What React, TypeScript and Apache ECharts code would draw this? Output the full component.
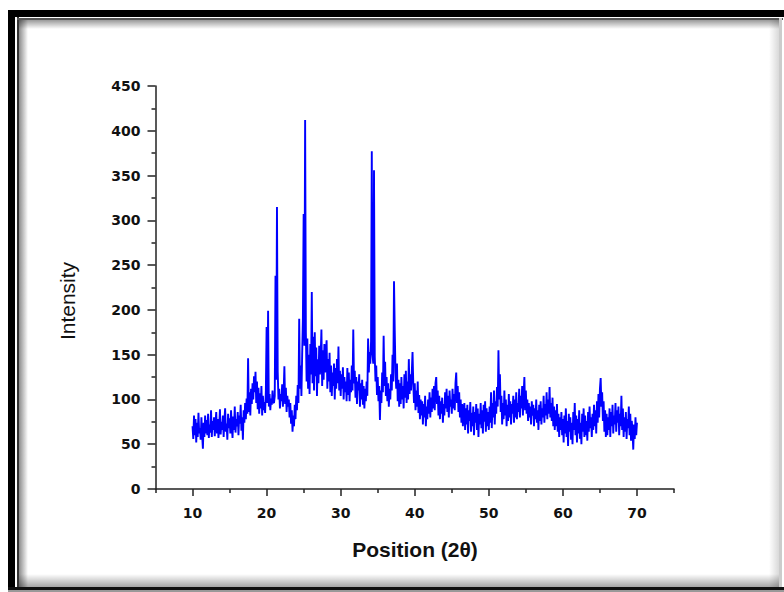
import React, { useEffect, useRef } from "react";
import * as echarts from "echarts";

// 2θ sampling of the scan (degrees)
const scanStart = 10;
const scanStep = 0.1;

const intensity: number[] = [
  70, 56, 82, 60, 78, 52, 74, 58, 85, 62, // 10
  68, 55, 80, 60, 45, 74, 58, 82, 62, 77, // 11
  60, 84, 57, 72, 63, 88, 58, 76, 66, 80, // 12
  59, 74, 86, 62, 78, 57, 70, 89, 61, 75, // 13
  66, 82, 58, 77, 90, 64, 73, 55, 84, 68, // 14
  79, 62, 88, 70, 57, 81, 66, 92, 63, 78, // 15
  70, 86, 60, 82, 73, 94, 65, 80, 55, 88, // 16
  74, 96, 78, 101, 84, 146, 86, 108, 82, 112, // 17
  95, 118, 100, 126, 108, 131, 96, 120, 89, 113, // 18
  84, 107, 90, 115, 82, 104, 88, 97, 85, 110, // 19
  181, 96, 199, 92, 106, 88, 101, 94, 110, 97, // 20
  96, 104, 238, 122, 315, 131, 100, 112, 90, 106, // 21
  98, 117, 92, 108, 137, 95, 113, 86, 104, 92, // 22
  100, 80, 96, 73, 88, 64, 82, 70, 94, 78, // 23
  104, 88, 116, 96, 190, 112, 138, 104, 150, 190, // 24
  307, 160, 412, 175, 120, 168, 112, 150, 106, 162, // 25
  128, 220, 118, 170, 110, 175, 126, 158, 104, 145, // 26
  118, 160, 128, 148, 178, 115, 155, 122, 162, 130, // 27
  150, 166, 112, 145, 120, 152, 108, 138, 104, 130, // 28
  115, 140, 100, 135, 112, 145, 118, 159, 110, 132, // 29
  104, 128, 112, 136, 100, 125, 108, 120, 98, 135, // 30
  105, 130, 98, 122, 108, 138, 110, 178, 118, 132, // 31
  102, 125, 95, 120, 110, 128, 92, 118, 100, 122, // 32
  94, 115, 90, 112, 98, 120, 104, 168, 130, 153, // 33
  140, 165, 377, 150, 140, 356, 148, 120, 138, 105, // 34
  125, 98, 115, 77, 110, 96, 130, 108, 171, 115, // 35
  142, 104, 125, 98, 118, 92, 112, 100, 128, 110, // 36
  150, 120, 232, 177, 130, 112, 140, 98, 122, 92, // 37
  118, 95, 125, 100, 115, 90, 128, 102, 132, 96, // 38
  120, 100, 145, 106, 128, 110, 130, 153, 118, 96, // 39
  118, 88, 110, 92, 120, 85, 105, 78, 100, 82, // 40
  98, 72, 95, 80, 104, 70, 92, 78, 100, 84, // 41
  108, 80, 102, 86, 112, 90, 115, 88, 118, 125, // 42
  95, 110, 82, 104, 78, 98, 84, 102, 74, 95, // 43
  82, 108, 90, 112, 86, 104, 80, 110, 92, 100, // 44
  84, 112, 90, 106, 88, 118, 130, 96, 115, 86, // 45
  108, 80, 100, 74, 95, 70, 88, 96, 66, 90, // 46
  72, 94, 62, 88, 76, 97, 64, 85, 70, 92, // 47
  60, 86, 74, 95, 66, 90, 58, 84, 72, 96, // 48
  68, 88, 62, 94, 75, 98, 64, 90, 70, 86, // 49
  66, 92, 74, 108, 68, 96, 80, 110, 72, 98, // 50
  84, 114, 92, 155, 100, 128, 86, 104, 72, 96, // 51
  78, 110, 82, 100, 70, 94, 76, 106, 80, 98, // 52
  72, 95, 84, 104, 74, 100, 80, 108, 78, 96, // 53
  86, 112, 80, 104, 90, 115, 82, 106, 125, 88, // 54
  110, 84, 100, 76, 96, 80, 92, 72, 98, 82, // 55
  94, 70, 90, 78, 100, 74, 88, 66, 94, 76, // 56
  98, 72, 90, 80, 104, 74, 95, 82, 108, 78, // 57
  100, 84, 114, 80, 96, 76, 102, 70, 92, 66, // 58
  88, 70, 95, 64, 84, 58, 80, 66, 86, 60, // 59
  78, 52, 82, 62, 90, 58, 76, 48, 84, 64, // 60
  80, 55, 74, 50, 86, 66, 96, 60, 82, 52, // 61
  78, 62, 88, 56, 74, 50, 84, 64, 90, 58, // 62
  82, 60, 76, 54, 86, 64, 92, 68, 80, 58, // 63
  84, 66, 94, 70, 88, 62, 98, 74, 106, 80, // 64
  112, 124, 92, 108, 76, 98, 64, 88, 58, 84, // 65
  60, 80, 66, 90, 58, 86, 70, 94, 62, 82, // 66
  72, 96, 64, 88, 74, 92, 60, 84, 70, 104, // 67
  66, 90, 58, 80, 64, 86, 56, 78, 68, 92, // 68
  60, 84, 54, 76, 64, 44, 72, 56, 80, 60, // 69
  74, // 70
];

const xLabelValues = [10, 20, 30, 40, 50, 60, 70];
const xMinorValues = [5, 15, 25, 35, 45, 55, 65, 75];
const xTitle = "Position (2θ)";
const yTitle = "Intensity";

const labelFont = {
  fontFamily: "DejaVu Sans",
  fontWeight: "bold" as const,
  fontSize: 14,
  color: "#111",
};

export default function App() {
  const ref = useRef<HTMLDivElement>(null);
  useEffect(() => {
    if (!ref.current) return;
    const chart = echarts.init(ref.current, undefined, { renderer: "svg" });
    const data = intensity.map((v, i) => [
      Math.round((scanStart + i * scanStep) * 10) / 10,
      v,
    ]);
    const axisLine = { show: true, lineStyle: { color: "#222", width: 1.5 } };
    chart.setOption({
      animation: false,
      backgroundColor: "#fff",
      grid: { left: 155.5, right: 110, top: 86, bottom: 103 },
      xAxis: [
        {
          type: "value",
          min: 5,
          max: 75,
          axisLine,
          splitLine: { show: false },
          axisTick: {
            show: true,
            length: 7,
            customValues: xLabelValues,
            lineStyle: { color: "#222", width: 1.5 },
          },
          axisLabel: {
            ...labelFont,
            margin: 17,
            customValues: xLabelValues,
          },
        },
        {
          type: "value",
          min: 5,
          max: 75,
          position: "bottom",
          axisLine: { show: false },
          splitLine: { show: false },
          axisTick: {
            show: true,
            length: 4,
            customValues: xMinorValues,
            lineStyle: { color: "#222", width: 1.5 },
          },
          axisLabel: { show: false },
        },
      ],
      yAxis: {
        type: "value",
        min: 0,
        max: 450,
        interval: 50,
        axisLine,
        splitLine: { show: false },
        axisTick: { show: true, length: 8, lineStyle: { color: "#222", width: 1.5 } },
        minorTick: { show: true, splitNumber: 2, length: 4, lineStyle: { color: "#222", width: 1.5 } },
        minorSplitLine: { show: false },
        axisLabel: { ...labelFont, margin: 15 },
      },
      series: [
        {
          type: "line",
          xAxisIndex: 0,
          data,
          showSymbol: false,
          lineStyle: { color: "#0000ff", width: 1.9 },
          itemStyle: { color: "#0000ff" },
          z: 3,
        },
      ],
      graphic: [
        // frame: outer thick black band
        { type: "rect", silent: true, shape: { x: 8, y: 10, width: 800, height: 7 }, style: { fill: "#000" } },
        { type: "rect", silent: true, shape: { x: 8, y: 10, width: 7, height: 582 }, style: { fill: "#000" } },
        { type: "rect", silent: true, shape: { x: 8, y: 587, width: 800, height: 3 }, style: { fill: "#111" } },
        { type: "rect", silent: true, shape: { x: 8, y: 590, width: 800, height: 2 }, style: { fill: "#999" } },
        // inner thin lines
        { type: "rect", silent: true, shape: { x: 17, y: 17, width: 2, height: 570 }, style: { fill: "#333" } },
        { type: "rect", silent: true, shape: { x: 17, y: 18, width: 766, height: 2 }, style: { fill: "#555" } },
        { type: "rect", silent: true, shape: { x: 779, y: 18, width: 3, height: 569 }, style: { fill: "#ccc" } },
        // inner shadows
        {
          type: "rect", silent: true, shape: { x: 19, y: 20, width: 9, height: 567 },
          style: { fill: new echarts.graphic.LinearGradient(0, 0, 1, 0, [{ offset: 0, color: "rgba(0,0,0,0.45)" }, { offset: 1, color: "rgba(0,0,0,0)" }]) },
        },
        {
          type: "rect", silent: true, shape: { x: 19, y: 20, width: 760, height: 9 },
          style: { fill: new echarts.graphic.LinearGradient(0, 0, 0, 1, [{ offset: 0, color: "rgba(0,0,0,0.4)" }, { offset: 1, color: "rgba(0,0,0,0)" }]) },
        },
        {
          type: "rect", silent: true, shape: { x: 769, y: 20, width: 10, height: 567 },
          style: { fill: new echarts.graphic.LinearGradient(0, 0, 1, 0, [{ offset: 0, color: "rgba(0,0,0,0)" }, { offset: 1, color: "rgba(0,0,0,0.15)" }]) },
        },
        {
          type: "rect", silent: true, shape: { x: 19, y: 574, width: 760, height: 13 },
          style: { fill: new echarts.graphic.LinearGradient(0, 0, 0, 1, [{ offset: 0, color: "rgba(0,0,0,0)" }, { offset: 1, color: "rgba(0,0,0,0.35)" }]) },
        },
        // axis titles
        {
          type: "text",
          x: 67,
          y: 301,
          rotation: Math.PI / 2,
          style: {
            text: yTitle,
            fontFamily: "Liberation Sans",
            fontSize: 21,
            fill: "#111",
            align: "center",
            verticalAlign: "middle",
          },
        },
        {
          type: "text",
          x: 415,
          y: 549,
          style: {
            text: xTitle,
            fontFamily: "Liberation Sans",
            fontWeight: "bold",
            fontSize: 21,
            fill: "#111",
            align: "center",
            verticalAlign: "middle",
          },
        },
      ],
    });
    return () => chart.dispose();
  }, []);
  return (
    <div
      ref={ref}
      style={{ position: "fixed", left: 0, top: 0, width: 784, height: 592 }}
    />
  );
}
